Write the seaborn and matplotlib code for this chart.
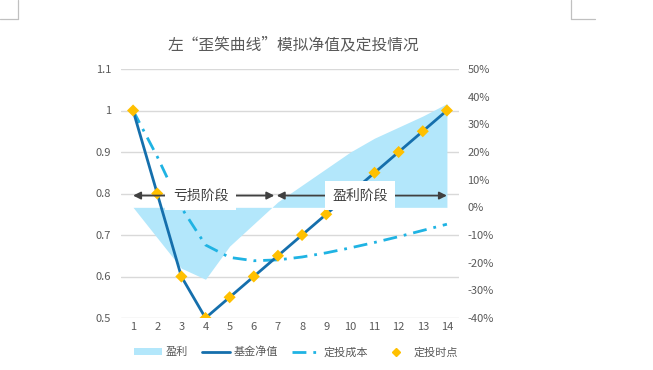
import matplotlib
matplotlib.use("Agg")
import matplotlib.pyplot as plt
import seaborn as sns
import numpy as np
from matplotlib.lines import Line2D
from matplotlib.patches import Patch
from matplotlib.ticker import FuncFormatter

# ---- data ----
periods = list(range(1, 15))
nav = [1.0, 0.8, 0.6, 0.5, 0.55, 0.6, 0.65, 0.7, 0.75, 0.8, 0.85, 0.9, 0.95, 1.0]
cost = [1.0, 0.889, 0.766, 0.676, 0.646, 0.638, 0.640, 0.647, 0.657, 0.669, 0.682, 0.696, 0.711, 0.726]
profit = [0.0, -0.11, -0.22, -0.26, -0.14, -0.06, 0.02, 0.08, 0.14, 0.20, 0.25, 0.29, 0.33, 0.375]
left_ticks = [0.5, 0.6, 0.7, 0.8, 0.9, 1.0, 1.1]
left_labels = ["0.5", "0.6", "0.7", "0.8", "0.9", "1", "1.1"]
right_ticks = [-0.4, -0.3, -0.2, -0.1, 0.0, 0.1, 0.2, 0.3, 0.4, 0.5]
title = "左“歪笑曲线”模拟净值及定投情况"
legend_labels = ["盈利", "基金净值", "定投成本", "定投时点"]
phase_labels = ["亏损阶段", "盈利阶段"]

sns.set_theme(style="white")
plt.rcParams["font.family"] = ["Noto Sans CJK SC", "DejaVu Sans"]
plt.rcParams["axes.unicode_minus"] = False

TXT = "#595959"
GRID = "#d9d9d9"
AREA = "#b3e7fb"
NAVC = "#156fac"
COSTC = "#1fb3e3"
MARK = "#ffc000"

W, H = 653, 370
fig = plt.figure(figsize=(W / 100, H / 100), dpi=100)
L, R, T, B = 121, 459, 69, 318
ax = fig.add_axes([L / W, 1 - B / H, (R - L) / W, (B - T) / H])
ax2 = ax.twinx()
ax3 = ax.twinx()

# base axis: grid + left ticks
ax.set_xlim(0.5, 14.5)
ax.set_ylim(0.5, 1.1)
ax.set_yticks(left_ticks)
ax.set_yticklabels(left_labels)
ax.set_xticks(periods)
ax.set_xticklabels([str(p) for p in periods])
for y in left_ticks:
    ax.axhline(y, color=GRID, lw=1.0, zorder=0)
for s in ax.spines.values():
    s.set_visible(False)
ax.tick_params(axis="both", length=0, labelsize=8, labelcolor=TXT)
ax.tick_params(axis="y", pad=7)
ax.tick_params(axis="x", pad=3)

# area on right axis
ax2.set_ylim(-0.4, 0.5)
ax2.set_yticks(right_ticks)
ax2.yaxis.set_major_formatter(FuncFormatter(lambda v, p: f"{v*100:.0f}%"))
ax2.fill_between(periods, 0, profit, color=AREA, lw=0)
for s in ax2.spines.values():
    s.set_visible(False)
ax2.tick_params(axis="y", length=0, labelsize=8, labelcolor=TXT, pad=6)

# lines on top axis
ax3.set_ylim(0.5, 1.1)
ax3.set_xlim(0.5, 14.5)
ax3.axis("off")
sns.lineplot(x=periods, y=cost, ax=ax3, color=COSTC, linewidth=2.0,
             linestyle=(0, (5, 2.5, 1, 2.5)), zorder=3)
sns.lineplot(x=periods, y=nav, ax=ax3, color=NAVC, linewidth=2.0, zorder=4)
sns.scatterplot(x=periods, y=nav, ax=ax3, color=MARK, marker="D", s=38,
                edgecolor="none", zorder=5)
ax3.set_xlim(0.5, 14.5)
ax3.set_ylim(0.5, 1.1)

# phase arrows
ay = 0.795
arrow_kw = dict(arrowstyle="<|-|>", color="#404040", lw=1.3,
                mutation_scale=11, shrinkA=0, shrinkB=0)
ax3.annotate("", xy=(1.0, ay), xytext=(6.85, ay), arrowprops=arrow_kw, zorder=6)
ax3.annotate("", xy=(6.95, ay), xytext=(14.0, ay), arrowprops=arrow_kw, zorder=6)
box = dict(boxstyle="square,pad=0.55", fc="white", ec="none")
ax3.text(3.8, ay, phase_labels[0], ha="center", va="center", fontsize=10,
         color="#404040", bbox=box, zorder=7)
ax3.text(10.4, ay, phase_labels[1], ha="center", va="center", fontsize=10,
         color="#404040", bbox=box, zorder=7)

# title
fig.text(293 / W, 1 - 45 / H, title, ha="center", va="center",
         fontsize=11.3, color=TXT)

# legend
handles = [
    Patch(facecolor=AREA, edgecolor="none"),
    Line2D([], [], color=NAVC, lw=2.0),
    Line2D([], [], color=COSTC, lw=2.0, linestyle=(0, (5, 2.5, 1, 2.5))),
    Line2D([], [], color=MARK, marker="D", markersize=4.5, lw=0),
]
leg = fig.legend(handles, legend_labels, loc="center", ncol=4,
                 bbox_to_anchor=(296 / W, 1 - 352 / H), frameon=False,
                 fontsize=8, handlelength=2.5, handleheight=0.5,
                 columnspacing=1.3, handletextpad=0.3)
for t in leg.get_texts():
    t.set_color(TXT)

# page corner marks
cm = "#c0c0c0"
def seg(x0, y0, x1, y1):
    fig.add_artist(Line2D([x0 / W, x1 / W], [1 - y0 / H, 1 - y1 / H],
                          transform=fig.transFigure, color=cm, lw=0.9))
seg(0, 19, 18, 19)
seg(18, 0, 18, 19)
seg(571, 0, 571, 19)
seg(571, 19, 595, 19)

fig.savefig("out.png", dpi=100, facecolor="white")
